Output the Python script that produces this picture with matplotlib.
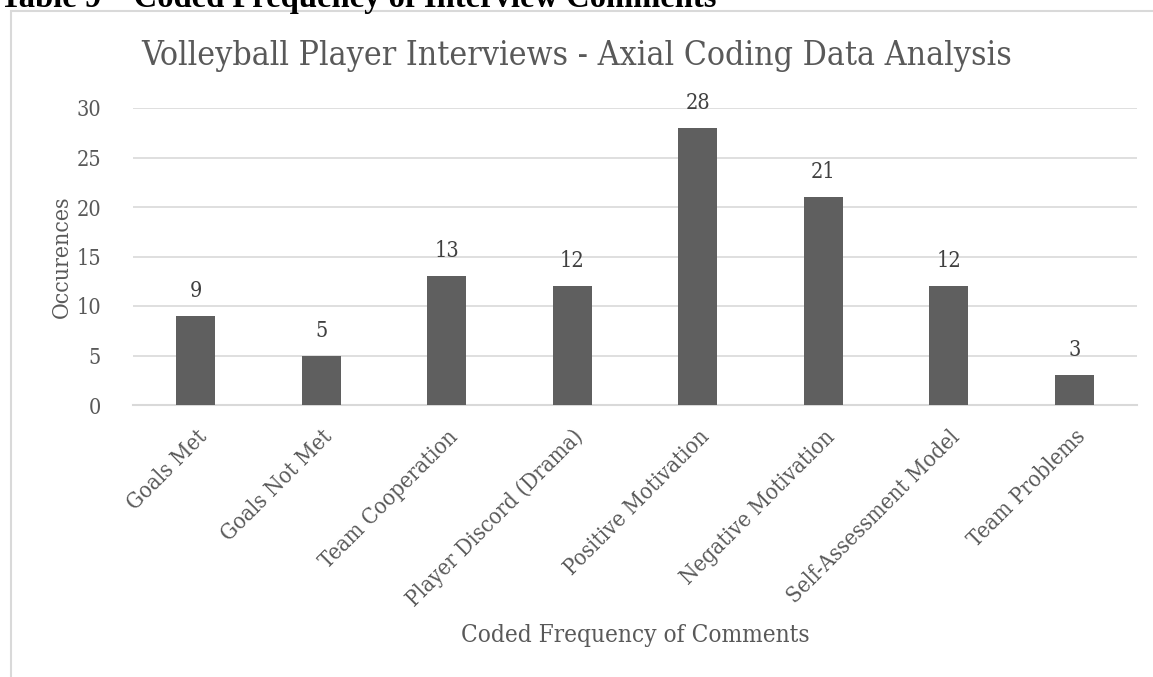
import matplotlib
matplotlib.use("Agg")
import matplotlib.pyplot as plt
from matplotlib.patches import Rectangle

categories = ["Goals Met", "Goals Not Met", "Team Cooperation", "Player Discord (Drama)",
              "Positive Motivation", "Negative Motivation", "Self-Assessment Model", "Team Problems"]
values = [9, 5, 13, 12, 28, 21, 12, 3]
yticks = [0, 5, 10, 15, 20, 25, 30]

W, H = 1153, 677
fig = plt.figure(figsize=(W / 100, H / 100), dpi=100)
plt.rcParams['font.family'] = ['DejaVu Serif']
plt.rcParams['font.stretch'] = 'condensed'

txt = '#595959'
grid = '#d9d9d9'

# chart border
fig.patches.append(Rectangle((11 / W, -0.1), 1.5, (H - 11) / H + 0.1, transform=fig.transFigure,
                             fill=False, edgecolor=grid, linewidth=1.5))

# document header (cut off at top, as in the page the chart was taken from)
fig.text(0.0, 1 - 7 / H, "Table 9 \u2013 Coded Frequency of Interview Comments",
         family=['Liberation Serif'], fontweight='bold', fontsize=23.5, color='black',
         ha='left', va='baseline', fontstretch='normal')

ax = fig.add_axes([133 / W, (H - 405) / H, (1137 - 133) / W, (405 - 108) / H])
x = list(range(len(categories)))
ax.bar(x, values, width=0.31, color='#5f5f5f', zorder=3)
ax.set_xlim(-0.5, len(categories) - 0.5)
ax.set_ylim(0, 30)
ax.set_yticks(yticks)
ax.yaxis.grid(True, color=grid, linewidth=1.2, zorder=0)
ax.set_axisbelow(True)
for s in ['top', 'right', 'left']:
    ax.spines[s].set_visible(False)
ax.spines['bottom'].set_color(grid)
ax.spines['bottom'].set_linewidth(1.5)
ax.tick_params(axis='both', length=0, colors=txt, labelsize=15.5)
ax.tick_params(axis='y', pad=23)
ax.set_xticks(x)
ax.set_xticklabels(categories, rotation=45, ha='right', va='top', rotation_mode='anchor',
                   fontsize=16)
ax.tick_params(axis='x', pad=15)

for xi, v in zip(x, values):
    ax.annotate(str(v), (xi, v), xytext=(0, 10), textcoords='offset points',
                ha='center', va='bottom', fontsize=15.5, color='#404040')

ax.set_ylabel("Occurences", fontsize=16.5, color=txt)
ax.set_xlabel("Coded Frequency of Comments", fontsize=17.5, color=txt)
ax.xaxis.set_label_coords(0.5, -(624 - 405) / (405 - 108))
ax.yaxis.set_label_coords(-(133 - 73) / (1137 - 133), 0.5)

fig.text(577 / W, 1 - 56 / H, "Volleyball Player Interviews - Axial Coding Data Analysis",
         fontsize=24.2, color=txt, ha='center', va='center')

fig.savefig("out.png", dpi=100)
